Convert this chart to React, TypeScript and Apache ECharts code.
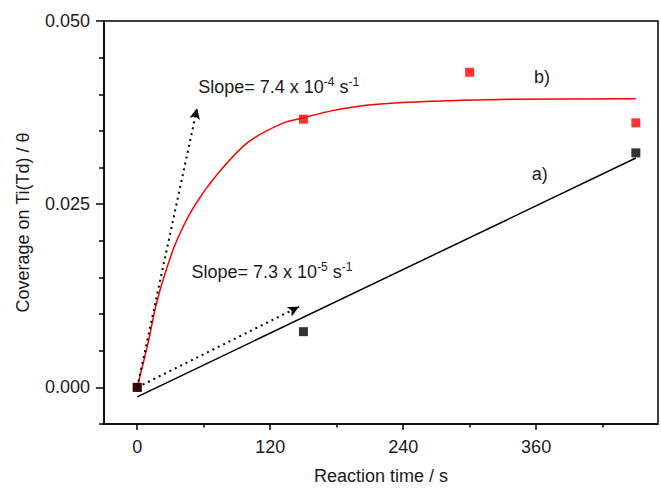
import React, { useEffect, useRef } from "react";
import * as echarts from "echarts";

// Measured data (a) black, (b) red
const blackTime = [0, 150, 450];
const blackTheta = [0, 0.0076, 0.032];
const redTime = [0, 150, 300, 450];
const redTheta = [0, 0.0366, 0.043, 0.0361];

// Fitted curves
const fitATime = [0, 450];
const fitATheta = [-0.0013, 0.0313];
const fitBTime = [0, 10.6, 16.6, 25, 35.6, 50.6, 71.8, 100.4, 132, 150, 174, 207, 260, 328, 450];
const fitBTheta = [0, 0.0066, 0.011, 0.0155, 0.02, 0.0245, 0.029, 0.0335, 0.0361, 0.0368, 0.0377, 0.0385, 0.039, 0.0393, 0.0394];

// Slope arrows: start and tip in data units
const arrowStart = [0, 0];
const arrowBTip = [54, 0.0381];
const arrowATip = [146, 0.011];

// Axis ticks
const xMajor = [0, 120, 240, 360];
const xMinor = [60, 180, 300, 420];
const yMajor = [0, 0.025, 0.05];
const yMinor = [-0.005, 0.005, 0.01, 0.015, 0.02, 0.03, 0.035, 0.04, 0.045];

// Annotations (anchor in data units)
const annotations = [
  { t: 55, v: 0.041, text: "Slope= 7.4 x 10{sup|-4} s{sup|-1}" },
  { t: 49, v: 0.0158, text: "Slope= 7.3 x 10{sup|-5} s{sup|-1}" },
  { t: 358, v: 0.0424, text: "b)" },
  { t: 356, v: 0.0291, text: "a)" },
];

const FONT = "'Liberation Sans', Arial, sans-serif";
const TXT = "#1a1a1a";
const FS = 18;

const zip = (a: number[], b: number[]) => a.map((x, i) => [x, b[i]]);

export default function App() {
  const ref = useRef<HTMLDivElement>(null);
  useEffect(() => {
    if (!ref.current) return;
    const chart = echarts.init(ref.current, null, { renderer: "svg" });
    const axisCommon = {
      type: "value" as const,
      splitLine: { show: false },
    };
    chart.setOption({
      animation: false,
      backgroundColor: "#fff",
      textStyle: { fontFamily: FONT },
      grid: {
        left: 104,
        right: 3,
        top: 21,
        bottom: 61,
        show: true,
        borderColor: "#000",
        borderWidth: 1.5,
        backgroundColor: "transparent",
      },
      xAxis: [
        {
          ...axisCommon,
          min: -30,
          max: 470,
          position: "bottom",
          axisLine: { show: true, onZero: false, lineStyle: { color: "#000", width: 1.5 } },
          axisTick: { show: true, customValues: xMajor, length: 6, lineStyle: { color: "#000", width: 1.5 } },
          axisLabel: { customValues: xMajor, margin: 14, fontSize: FS, color: TXT, fontFamily: FONT },
          name: "Reaction time / s",
          nameLocation: "middle",
          nameGap: 43,
          nameTextStyle: { fontSize: FS, color: TXT, fontFamily: FONT },
        },
        {
          ...axisCommon,
          min: -30,
          max: 470,
          position: "bottom",
          axisLine: { show: false, onZero: false },
          axisTick: { show: true, customValues: xMinor, length: 3.5, lineStyle: { color: "#000", width: 1.5 } },
          axisLabel: { show: false },
        },
      ],
      yAxis: [
        {
          ...axisCommon,
          min: -0.005,
          max: 0.05,
          position: "left",
          axisLine: { show: true, onZero: false, lineStyle: { color: "#000", width: 1.5 } },
          axisTick: { show: true, customValues: yMajor, length: 8, lineStyle: { color: "#000", width: 1.5 } },
          axisLabel: {
            customValues: yMajor,
            margin: 14,
            fontSize: FS,
            color: TXT,
            fontFamily: FONT,
            formatter: (v: number) => v.toFixed(3),
          },
          name: "Coverage on Ti(Td) / θ",
          nameLocation: "middle",
          nameGap: 72,
          nameTextStyle: { fontSize: FS, color: TXT, fontFamily: FONT },
        },
        {
          ...axisCommon,
          min: -0.005,
          max: 0.05,
          position: "left",
          axisLine: { show: false, onZero: false },
          axisTick: { show: true, customValues: yMinor, length: 5, lineStyle: { color: "#000", width: 1.5 } },
          axisLabel: { show: false },
        },
      ],
      series: [
        {
          type: "line",
          data: zip(fitBTime, fitBTheta),
          smooth: 0.25,
          showSymbol: false,
          lineStyle: { color: "#ff0000", width: 1.5 },
          silent: true,
          z: 2,
        },
        {
          type: "line",
          data: zip(fitATime, fitATheta),
          showSymbol: false,
          lineStyle: { color: "#000", width: 1.5 },
          silent: true,
          z: 2,
          markLine: {
            silent: true,
            symbol: ["none", "arrow"],
            symbolSize: [8, 11],
            label: { show: false },
            lineStyle: { color: "#000", width: 2, type: [2, 4] },
            data: [
              [{ coord: arrowStart }, { coord: arrowBTip }],
              [{ coord: arrowStart }, { coord: arrowATip }],
            ],
          },
        },
        {
          type: "scatter",
          data: zip(redTime, redTheta),
          symbol: "rect",
          symbolSize: 9,
          itemStyle: { color: "#ff0000" },
          z: 3,
        },
        {
          type: "scatter",
          data: zip(blackTime, blackTheta),
          symbol: "rect",
          symbolSize: 9,
          itemStyle: { color: "#000" },
          z: 4,
        },
      ],
    });
    const graphic = annotations.map((a) => {
      const p = chart.convertToPixel({ gridIndex: 0 }, [a.t, a.v]) as number[];
      return {
        type: "text",
        x: p[0],
        y: p[1],
        z: 10,
        style: {
          text: a.text,
          fill: TXT,
          fontSize: FS,
          fontFamily: FONT,
          verticalAlign: "middle",
          align: "left",
          lineHeight: 22,
          rich: {
            sup: { fontSize: 12, fill: TXT, fontFamily: FONT, verticalAlign: "top", lineHeight: 14 },
          },
        },
      };
    });
    chart.setOption({ graphic });
    return () => chart.dispose();
  }, []);
  return <div ref={ref} style={{ width: 661, height: 490, position: "absolute", left: 0, top: 0 }} />;
}
